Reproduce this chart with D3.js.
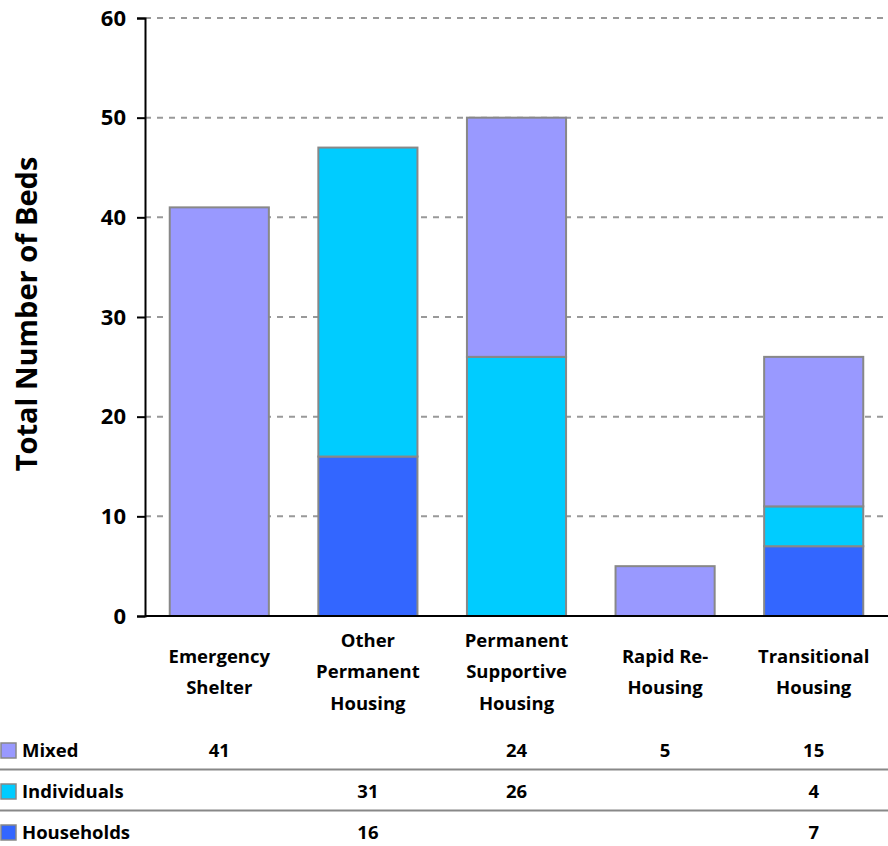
<!DOCTYPE html>
<html><head><meta charset="utf-8">
<script src="https://cdn.jsdelivr.net/npm/d3@7"></script>
<style>body{margin:0;background:#fff}svg{display:block;font-family:"Open Sans",Lato,sans-serif;font-weight:bold}</style>
</head><body><svg id="c" width="888" height="846"></svg>
<script>
const categories = [["Emergency","Shelter"],["Other","Permanent","Housing"],["Permanent","Supportive","Housing"],["Rapid Re-","Housing"],["Transitional","Housing"]];
const categoryKeys = ["Emergency Shelter","Other Permanent Housing","Permanent Supportive Housing","Rapid Re-Housing","Transitional Housing"];
const seriesNames = ["Mixed","Individuals","Households"];
const mixed = [41, null, 24, 5, 15];
const individuals = [null, 31, 26, null, 4];
const households = [null, 16, null, null, 7];
const colors = {"Mixed":"#9999FF","Individuals":"#00CCFF","Households":"#3366FF"};
const yTicks = [0,10,20,30,40,50,60];
const yTitle = "Total Number of Beds";

(function(){
const svg = d3.select("#c");
const mL = 145, mR = 888, mT = 18, mB = 616;
const x = d3.scaleBand().domain(categoryKeys).range([mL, mR]).paddingInner(0.333).paddingOuter(0.1665);
const y = d3.scaleLinear().domain([0,60]).range([mB, mT]);

const rows = categoryKeys.map((k,i)=>({key:k, Households:households[i]||0, Individuals:individuals[i]||0, Mixed:mixed[i]||0}));
const stack = d3.stack().keys(["Households","Individuals","Mixed"])(rows);

svg.append("g").selectAll("line").data(yTicks.filter(d=>d>0)).join("line")
  .attr("x1", mL).attr("x2", mR).attr("y1", d=>y(d)).attr("y2", d=>y(d))
  .attr("stroke","#999").attr("stroke-width",2).attr("stroke-dasharray","6,6");

svg.append("g").selectAll("g").data(stack).join("g").attr("fill", s=>colors[s.key])
  .selectAll("rect").data(s=>s.filter(d=>d[1]-d[0]>0)).join("rect")
  .attr("x", d=>x(d.data.key)).attr("width", x.bandwidth())
  .attr("y", d=>y(d[1])).attr("height", d=>y(d[0])-y(d[1]))
  .attr("stroke","#888").attr("stroke-width",2);

const ya = svg.append("g").attr("transform",`translate(${mL},0)`)
  .call(d3.axisLeft(y).tickValues(yTicks).tickSize(8).tickPadding(11));
ya.select(".domain").attr("stroke","#000").attr("stroke-width",2);
ya.selectAll(".tick line").attr("stroke","#000").attr("stroke-width",2);
ya.selectAll(".tick text").attr("font-size",22).attr("font-weight","bold").attr("fill","#000").attr("font-family","'Open Sans'");

svg.append("line").attr("x1",mL).attr("x2",mR).attr("y1",mB).attr("y2",mB).attr("stroke","#000").attr("stroke-width",2);

svg.append("text").attr("transform",`translate(27,314) rotate(-90)`)
  .attr("text-anchor","middle").attr("dy","0.35em").attr("font-size",29).attr("fill","#000").text(yTitle);

const cl = svg.append("g");
categories.forEach((lines,i)=>{
  const cx = x(categoryKeys[i]) + x.bandwidth()/2;
  const lh = 31.5, mid = 672;
  const start = mid - (lines.length-1)*lh/2;
  lines.forEach((t,j)=>{
    cl.append("text").attr("x",cx).attr("y",start+j*lh).attr("dy","0.35em")
      .attr("text-anchor","middle").attr("font-size",18.5).attr("fill","#000").text(t);
  });
});

const seriesData = {"Mixed":mixed,"Individuals":individuals,"Households":households};
const rowY = [751, 792, 833];
seriesNames.forEach((s,r)=>{
  const ry = rowY[r];
  svg.append("rect").attr("x",1).attr("y",ry-8).attr("width",15).attr("height",15)
    .attr("fill",colors[s]).attr("stroke","#888").attr("stroke-width",1.5);
  svg.append("text").attr("x",22).attr("y",ry).attr("dy","0.35em").attr("font-size",18.5).attr("fill","#000").text(s);
  seriesData[s].forEach((v,i)=>{
    if(v==null) return;
    svg.append("text").attr("x", x(categoryKeys[i])+x.bandwidth()/2).attr("y",ry).attr("dy","0.35em")
      .attr("text-anchor","middle").attr("font-size",18.5).attr("fill","#000").text(v);
  });
  if(r<seriesNames.length-1){
    svg.append("line").attr("x1",0).attr("x2",888).attr("y1",ry+18.5).attr("y2",ry+18.5).attr("stroke","#888").attr("stroke-width",2);
  }
});
})();
</script></body></html>
